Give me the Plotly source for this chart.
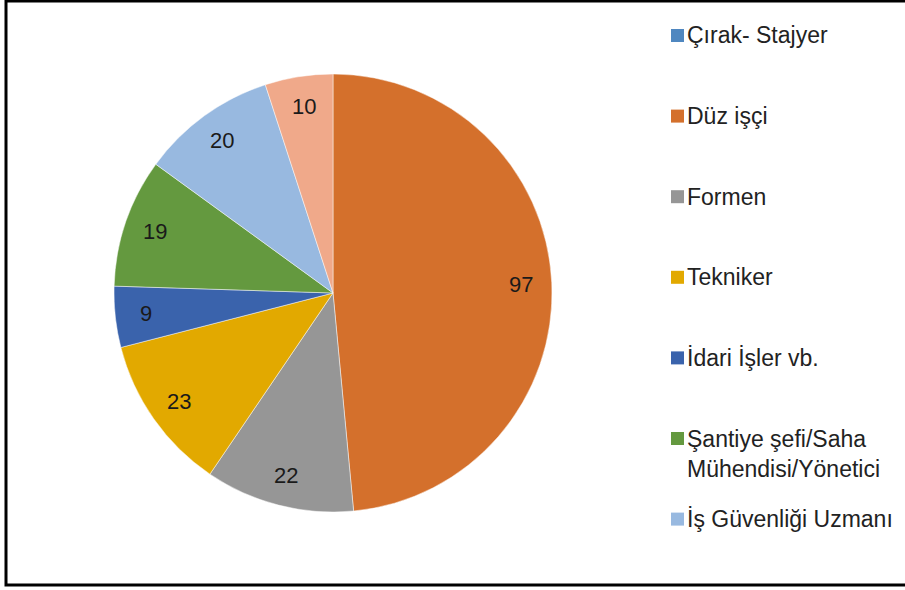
import math
import plotly.graph_objects as go

categories = ["Çırak- Stajyer", "Düz işçi", "Formen", "Tekniker", "İdari İşler vb.",
              "Şantiye şefi/Saha<br>Mühendisi/Yönetici", "İş Güvenliği Uzmanı", "Diğer"]
values = [0, 97, 22, 23, 9, 19, 20, 10]
colors = ["#4F87C0", "#D4702C", "#969696", "#E2A900", "#3A63AC", "#64993F", "#98B9E0", "#F0A98A"]

W, H = 905, 590
FONT = "Liberation Sans"

# pie geometry (pixels)
cx, cy, r = 333, 293, 219
label_frac = 0.86

def px_x(x):
    return x / W

def px_y(y):
    return 1 - y / H

fig = go.Figure(go.Pie(
    labels=categories,
    values=values,
    marker=dict(colors=colors, line=dict(color="rgba(255,255,255,0.6)", width=0.8)),
    sort=False,
    direction="clockwise",
    rotation=0,
    textinfo="none",
    showlegend=False,
    hoverinfo="label+value",
    domain=dict(x=[px_x(cx - r), px_x(cx + r)], y=[px_y(cy + r), px_y(cy - r)]),
))

shapes = []
annotations = []

# data labels, placed at the middle angle of each slice
total = sum(values)
cum = 0
for v in values:
    if v > 0:
        ang = math.radians((cum + v / 2) / total * 360)
        lx = cx + label_frac * r * math.sin(ang)
        ly = cy - label_frac * r * math.cos(ang)
        annotations.append(dict(x=px_x(lx), y=px_y(ly), xref="paper", yref="paper",
                                text=str(v), showarrow=False, xanchor="center", yanchor="middle",
                                font=dict(family=FONT, size=22, color="#1a1a1a")))
    cum += v

# outer border
shapes.append(dict(type="rect", xref="paper", yref="paper",
                   x0=px_x(6), x1=px_x(915), y0=px_y(585), y1=px_y(1),
                   line=dict(color="black", width=3), fillcolor="rgba(0,0,0,0)"))

# manual legend (entries beyond the visible area are clipped, as in the reference)
y0, step = 35.5, 80.6
for i, (lab, col) in enumerate(zip(categories, colors)):
    yc = y0 + i * step
    if yc > H - 40:
        continue
    shapes.append(dict(type="rect", xref="paper", yref="paper",
                       x0=px_x(671), x1=px_x(684), y0=px_y(yc + 6.5), y1=px_y(yc - 6.5),
                       line=dict(width=0), fillcolor=col))
    annotations.append(dict(x=px_x(685), y=px_y(yc - 15), xref="paper", yref="paper",
                            text=lab, showarrow=False, xanchor="left", yanchor="top",
                            align="left",
                            font=dict(family=FONT, size=23, color="#222")))

fig.update_layout(
    width=W, height=H,
    margin=dict(l=0, r=0, t=0, b=0),
    paper_bgcolor="white",
    plot_bgcolor="white",
    shapes=shapes,
    annotations=annotations,
)

fig.write_html("out.html",
               config={"displayModeBar": False},
               post_script="document.body.style.margin='0px';document.body.style.overflow='hidden';")
